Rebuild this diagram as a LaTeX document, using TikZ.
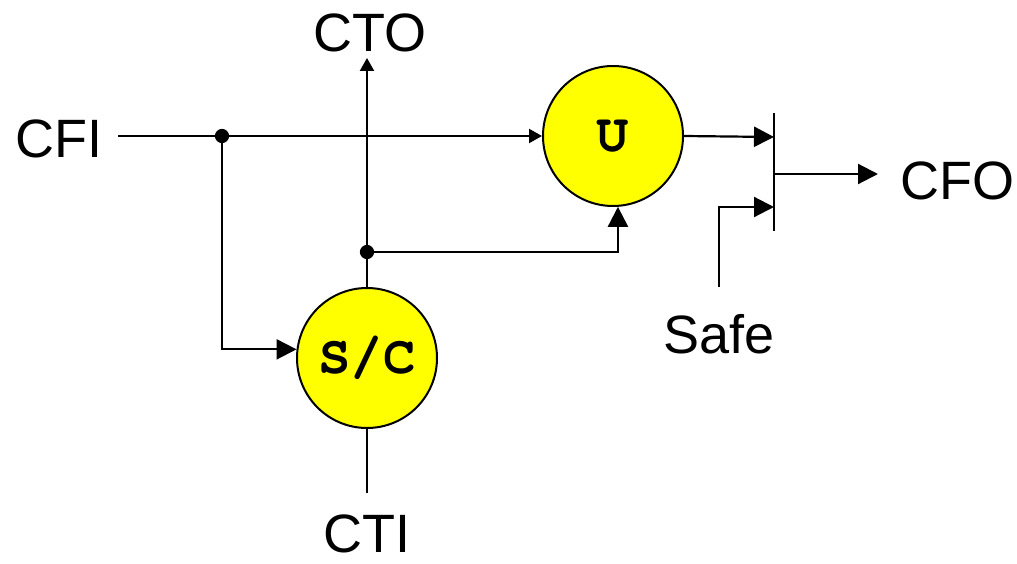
\documentclass[tikz,border=0pt]{standalone}
\usepackage{fontspec}
\setmainfont{Liberation Sans}
\newfontfamily\monobf{TeX Gyre Cursor}
\usetikzlibrary{arrows.meta}
\definecolor{ylw}{RGB}{255,255,0}
\begin{document}
\begin{tikzpicture}[x=1pt,y=-1pt, line width=2.2pt,
  big/.style={-{Triangle[length=20pt,width=20pt]}},
  small/.style={-{Triangle[length=13pt,width=14pt]}},
  blk/.style={circle,draw,fill=ylw,minimum size=140pt,inner sep=0pt,line width=2pt,
    font=\monobf\bfseries\fontsize{54}{54}\selectfont},
  lbl/.style={font=\fontsize{54}{58}\selectfont, inner sep=0pt, anchor=base},
  dot/.style={circle,draw,fill,inner sep=0pt,minimum size=12pt}]
\useasboundingbox (0,0) rectangle (1017,564);
% blocks
\node[blk] (U) at (613,136) {U};
\node[blk] (SC) at (367,358) {S/C};
% labels
\node[lbl] (CFI) at (59,158) {CFI};
\node[lbl] (CTO) at (370,52) {CTO};
\node[lbl] (CFO) at (957,200) {CFO};
\node[lbl] (Safe) at (719,353) {Safe};
\node[lbl] (CTI) at (367,552) {CTI};
% junctions
\node[dot] (j1) at (222,136) {};
\node[dot] (j2) at (367,252) {};
% gate
\coordinate (gtop) at (774,113);
\coordinate (gbot) at (774,231);
\coordinate (gin1) at (774,137);
\coordinate (gin2) at (774,207);
\coordinate (gout) at (774,174);
\coordinate (cfoTip) at (878,174);
\coordinate (cfiS) at (118,136);
\coordinate (ctoTip) at (367,58);
\coordinate (ctiE) at (367,493);
\coordinate (safeS) at (719,287);
\draw (gtop) -- (gbot);
% connectors
\draw (cfiS) -- (j1);
\draw[small] (j1) -- (U.west);
\draw[big] (j1) |- (SC.173);
\draw (SC.north) -- (j2);
\draw[small] (j2) -- (ctoTip);
\draw[big] (j2) -| (U.-86);
\draw[big] (U.east) -- (gin1);
\draw[big] (safeS) |- (gin2);
\draw[big] (gout) -- (cfoTip);
\draw (SC.south) -- (ctiE);
\end{tikzpicture}
\end{document}
